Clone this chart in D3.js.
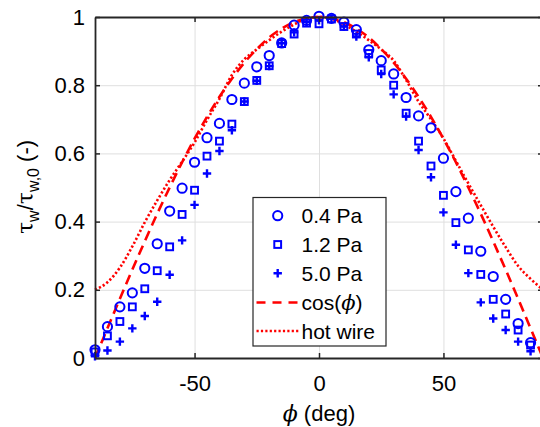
<!DOCTYPE html>
<html>
<head>
<meta charset="utf-8">
<script src="https://cdn.jsdelivr.net/npm/d3@7"></script>
<style>
  body { margin: 0; background: #fff; }
  svg { display: block; font-family: "Liberation Sans", Arial, sans-serif; }
</style>
</head>
<body>
<svg id="chart" width="540" height="427"></svg>
<script>
// angles of the measured points (deg)
var angles = [-90, -85, -80, -75, -70, -65, -60, -55, -50, -45, -40, -35, -30, -25, -20, -15, -10, -5,
              0, 5, 10, 15, 20, 25, 30, 35, 40, 45, 50, 55, 60, 65, 70, 75, 80, 85];
var pa04 = [0.024, 0.092, 0.150, 0.191, 0.263, 0.335, 0.431, 0.498, 0.574, 0.646, 0.688, 0.758, 0.806, 0.854, 0.887, 0.924, 0.976, 0.990,
            1.002, 0.996, 0.985, 0.963, 0.904, 0.872, 0.833, 0.764, 0.710, 0.675, 0.586, 0.488, 0.410, 0.313, 0.239, 0.172, 0.101, 0.045];
var pa12 = [0.018, 0.065, 0.107, 0.150, 0.203, 0.256, 0.326, 0.421, 0.492, 0.592, 0.636, 0.686, 0.752, 0.814, 0.857, 0.922, 0.950, 0.982,
            0.980, 0.994, 0.972, 0.950, 0.893, 0.845, 0.800, 0.718, 0.636, 0.563, 0.477, 0.397, 0.317, 0.245, 0.172, 0.129, 0.082, 0.038];
var pa50 = [0.005, 0.022, 0.048, 0.087, 0.123, 0.165, 0.244, 0.345, 0.449, 0.541, 0.607, 0.668, 0.752, 0.813, 0.856, 0.923, 0.955, 0.985,
            0.990, 0.995, 0.972, 0.943, 0.882, 0.833, 0.773, 0.708, 0.610, 0.530, 0.427, 0.332, 0.249, 0.163, 0.116, 0.082, 0.048, 0.020];

// reference curves (deg)
var curveAngles = [-90, -85, -80, -75, -70, -65, -60, -55, -50, -45, -40, -35, -30, -25, -20, -15, -10, -5,
                   0, 5, 10, 15, 20, 25, 30, 35, 40, 45, 50, 55, 60, 65, 70, 75, 80, 85, 90];
var cosVals = [0, 0.087, 0.174, 0.259, 0.342, 0.423, 0.5, 0.574, 0.643, 0.707, 0.766, 0.819, 0.866, 0.906, 0.940, 0.966, 0.985, 0.996,
               1, 0.996, 0.985, 0.966, 0.940, 0.906, 0.866, 0.819, 0.766, 0.707, 0.643, 0.574, 0.5, 0.423, 0.342, 0.259, 0.174, 0.087, 0];
var hotWire = [0.200, 0.222, 0.265, 0.327, 0.398, 0.462, 0.522, 0.576, 0.632, 0.698, 0.760, 0.830, 0.876, 0.905, 0.932, 0.957, 0.978, 0.995,
               1.0, 0.995, 0.978, 0.957, 0.932, 0.905, 0.872, 0.815, 0.752, 0.700, 0.644, 0.578, 0.512, 0.448, 0.385, 0.325, 0.270, 0.232, 0.200];

var xTicks = [-50, 0, 50];
var yTicks = [0, 0.2, 0.4, 0.6, 0.8, 1];
var legendLabels = ["0.4 Pa", "1.2 Pa", "5.0 Pa", "cos(", "hot wire"];

var mLeft = 95, mRight = 543, mTop = 17, mBottom = 358;
var blue = "#0000ff", red = "#ff0000", axisCol = "#262626";

var svg = d3.select("#chart");
var x = d3.scaleLinear().domain([-90, 90]).range([mLeft, mRight]);
var y = d3.scaleLinear().domain([0, 1]).range([mBottom, mTop]);

// grid
svg.append("g").attr("transform", "translate(0," + mBottom + ")")
  .call(d3.axisBottom(x).tickValues(xTicks).tickSize(-(mBottom - mTop)).tickFormat(""))
  .call(function (g) { g.select(".domain").remove(); g.selectAll("line").attr("stroke", "#dfdfdf"); });
svg.append("g").attr("transform", "translate(" + mLeft + ",0)")
  .call(d3.axisLeft(y).tickValues([0.2, 0.4, 0.6, 0.8]).tickSize(-(mRight - mLeft)).tickFormat(""))
  .call(function (g) { g.select(".domain").remove(); g.selectAll("line").attr("stroke", "#dfdfdf"); });

// curves
var line = d3.line().x(function (d) { return x(d[0]); }).y(function (d) { return y(d[1]); }).curve(d3.curveMonotoneX);
svg.append("path").datum(d3.zip(curveAngles, hotWire)).attr("d", line)
  .attr("fill", "none").attr("stroke", red).attr("stroke-width", 2.6).attr("stroke-dasharray", "2.2,2.2");
svg.append("path").datum(d3.zip(curveAngles, cosVals)).attr("d", line)
  .attr("fill", "none").attr("stroke", red).attr("stroke-width", 2.6).attr("stroke-dasharray", "10,6");

// markers
function circles(g, data, cx, cy) {
  g.selectAll(null).data(data).enter().append("circle")
    .attr("cx", cx).attr("cy", cy).attr("r", 4.6)
    .attr("fill", "none").attr("stroke", blue).attr("stroke-width", 2);
}
function squares(g, data, cx, cy) {
  g.selectAll(null).data(data).enter().append("rect")
    .attr("x", function (d, i) { return cx(d, i) - 3.4; }).attr("y", function (d, i) { return cy(d, i) - 3.4; })
    .attr("width", 6.8).attr("height", 6.8)
    .attr("fill", "none").attr("stroke", blue).attr("stroke-width", 2);
}
function pluses(g, data, cx, cy) {
  g.selectAll(null).data(data).enter().append("path")
    .attr("d", function (d, i) {
      var px = cx(d, i), py = cy(d, i);
      return "M" + (px - 4.2) + "," + py + "H" + (px + 4.2) + "M" + px + "," + (py - 4.2) + "V" + (py + 4.2);
    })
    .attr("fill", "none").attr("stroke", blue).attr("stroke-width", 2.4);
}
var pts = svg.append("g");
var ax = function (d, i) { return x(angles[i]); };
circles(pts, pa04, ax, function (d) { return y(d); });
squares(pts, pa12, ax, function (d) { return y(d); });
pluses(pts, pa50, ax, function (d) { return y(d); });

// axes (ticks inward, box)
function styleAxis(g) {
  g.select(".domain").attr("stroke", axisCol).attr("stroke-width", 1.8);
  g.selectAll(".tick line").attr("stroke", axisCol).attr("stroke-width", 1.5);
  g.selectAll(".tick text").attr("fill", "#000").attr("font-size", 22).attr("font-family", "Liberation Sans, Arial, sans-serif");
}
svg.append("g").attr("transform", "translate(0," + mBottom + ")")
  .call(d3.axisBottom(x).tickValues(xTicks).tickSizeInner(-5).tickSizeOuter(0).tickPadding(17).tickFormat(function (d) { return String(d); }))
  .call(styleAxis);
svg.append("g").attr("transform", "translate(0," + mTop + ")")
  .call(d3.axisTop(x).tickValues(xTicks).tickSizeInner(-5).tickSizeOuter(0).tickFormat(""))
  .call(styleAxis);
svg.append("g").attr("transform", "translate(" + mLeft + ",0)")
  .call(d3.axisLeft(y).tickValues(yTicks).tickSizeInner(-5).tickSizeOuter(0).tickPadding(10).tickFormat(function (d) { return d === 0 || d === 1 ? d : d.toFixed(1); }))
  .call(styleAxis);
svg.append("g").attr("transform", "translate(" + mRight + ",0)")
  .call(d3.axisRight(y).tickValues(yTicks).tickSizeInner(-5).tickSizeOuter(0).tickFormat(""))
  .call(styleAxis);

// axis labels
var xl = svg.append("text").attr("x", 319).attr("y", 421).attr("text-anchor", "middle").attr("font-size", 22);
xl.append("tspan").attr("font-style", "italic").attr("font-family", "DejaVu Serif, serif").text("\u03D5");
xl.append("tspan").text(" (deg)");

var yl = svg.append("text").attr("transform", "translate(33,187) rotate(-90)").attr("text-anchor", "middle").attr("font-size", 22);
yl.append("tspan").attr("font-family", "DejaVu Serif, serif").text("\u03C4");
yl.append("tspan").attr("font-size", 16).attr("dy", 6).text("w");
yl.append("tspan").attr("dy", -6).text("/");
yl.append("tspan").attr("font-family", "DejaVu Serif, serif").text("\u03C4");
yl.append("tspan").attr("font-size", 16).attr("dy", 6).text("w,0");
yl.append("tspan").attr("dy", -6).text(" (-)");

// legend
var lg = svg.append("g");
lg.append("rect").attr("x", 253).attr("y", 197.5).attr("width", 133).attr("height", 148.5)
  .attr("fill", "#fff").attr("stroke", axisCol).attr("stroke-width", 1.2);
var rows = [215.7, 244.5, 273.3, 302.5, 331];
var mx = function () { return 277.7; };
circles(lg, [0], mx, function () { return rows[0]; });
squares(lg, [0], mx, function () { return rows[1]; });
pluses(lg, [0], mx, function () { return rows[2]; });
lg.append("line").attr("x1", 256.5).attr("x2", 298.5).attr("y1", rows[3]).attr("y2", rows[3])
  .attr("stroke", red).attr("stroke-width", 2.6).attr("stroke-dasharray", "9,7");
lg.append("line").attr("x1", 256.5).attr("x2", 298.5).attr("y1", rows[4]).attr("y2", rows[4])
  .attr("stroke", red).attr("stroke-width", 2.6).attr("stroke-dasharray", "2.2,2.2");
legendLabels.forEach(function (t, i) {
  var tx = lg.append("text").attr("x", 301.5).attr("y", rows[i]).attr("dy", "0.36em").attr("font-size", 21).text(t);
  if (i === 3) {
    tx.append("tspan").attr("font-style", "italic").attr("font-family", "DejaVu Serif, serif").text("\u03D5");
    tx.append("tspan").text(")");
  }
});
</script>
</body>
</html>
